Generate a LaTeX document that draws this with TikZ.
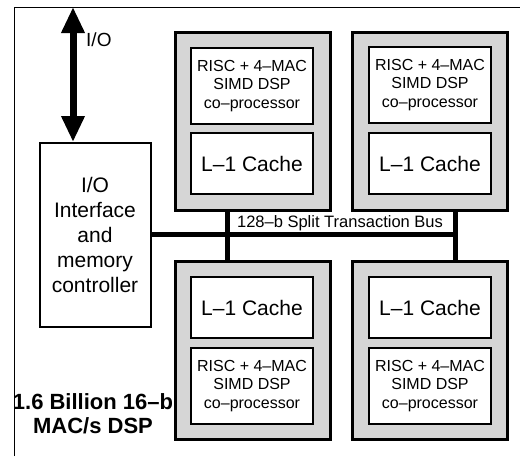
\documentclass[tikz,border=0pt]{standalone}
\usepackage{fontspec}
\setmainfont{Liberation Sans}
\usetikzlibrary{arrows.meta}

\begin{document}
\begin{tikzpicture}[x=1pt,y=-1pt,
  module/.style={draw, line width=3pt, fill=black!16, minimum width=155pt,
    minimum height=178pt, inner sep=0pt},
  cpu/.style={draw, line width=1.7pt, fill=white, minimum width=122pt,
    minimum height=76pt, inner sep=0pt, align=center,
    font=\fontsize{16}{18.5}\selectfont},
  cache/.style={draw, line width=1.7pt, fill=white, minimum width=122pt,
    minimum height=61pt, inner sep=0pt, font=\fontsize{21}{25}\selectfont},
  iobox/.style={draw, line width=2pt, fill=white, minimum width=111pt,
    minimum height=184pt, inner sep=0pt, align=center,
    font=\fontsize{21}{25}\selectfont},
  bus/.style={line width=5pt},
  ioarrow/.style={line width=7pt,
    {Triangle[width=22pt,length=26pt]}-{Triangle[width=22pt,length=26pt]}},
  lbl/.style={inner sep=0pt}
]
\useasboundingbox (0,0) rectangle (521,458);

% frame (top and left edges)
\draw[line width=1pt] (14,456) -- (14,7) -- (520,7);

% four processor modules
\node[module] (tl) at (252.5,121) {};
\node[module] (tr) at (430,121) {};
\node[module] (bl) at (252.5,350) {};
\node[module] (br) at (430,350) {};

% contents of the upper modules
\node[cpu] (tlcpu) at (252,86) {RISC + 4–MAC\\SIMD DSP\\co–processor};
\node[cache] (tlc) at (252,163.5) {L–1 Cache};
\node[cpu] (trcpu) at (430,85) {RISC + 4–MAC\\SIMD DSP\\co–processor};
\node[cache] (trc) at (430,163.5) {L–1 Cache};

% contents of the lower modules
\node[cache] (blc) at (252,307.5) {L–1 Cache};
\node[cpu] (blcpu) at (252,386) {RISC + 4–MAC\\SIMD DSP\\co–processor};
\node[cache] (brc) at (430,307.5) {L–1 Cache};
\node[cpu] (brcpu) at (430,386) {RISC + 4–MAC\\SIMD DSP\\co–processor};

% I/O interface block
\node[iobox] (io) at (95,235) {I/O\\Interface\\and\\memory\\controller};

% external I/O port
\coordinate (ioext) at (73,7);
\draw[ioarrow] (ioext) -- (io.north -| ioext);
\node[lbl, anchor=west, font=\fontsize{19}{22}\selectfont] (iolbl) at (86,40) {I/O};

% split transaction bus
\coordinate (busL) at (227,234);
\coordinate (busR) at (455,234);
\draw[bus] (io.east |- busR) -- (busR);
\draw[bus] (busL |- tl.south) -- (busL |- bl.north);
\draw[bus] (busR |- tr.south) -- (busR |- br.north);
\node[lbl, font=\fontsize{16.5}{19}\selectfont] (buslbl) at (340,223) {128–b Split Transaction Bus};

% throughput caption
\node[lbl, align=center, font=\bfseries\fontsize{22}{24}\selectfont] (cap) at (93,414)
  {1.6 Billion 16–b\\MAC/s DSP};
\end{tikzpicture}
\end{document}
